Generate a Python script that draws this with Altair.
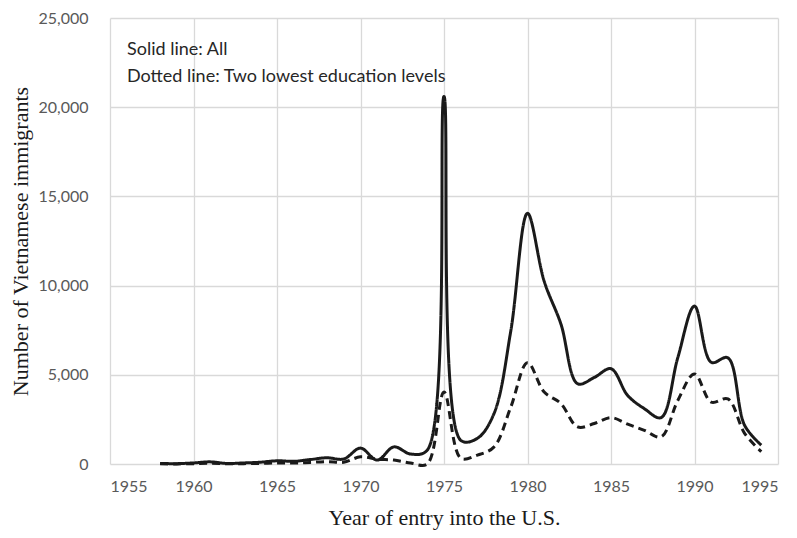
import altair as alt
import pandas as pd

years = list(range(1958, 1995))
all_vals = [30, 20, 60, 120, 30, 60, 100, 180, 150, 250, 350, 280, 890, 220, 960, 560, 780,
            20600, 1330, 1440, 2840, 7460, 14050, 10240, 7850, 4500, 4850, 5340, 3840, 3100,
            2600, 5960, 8850, 5700, 5950, 2170, 1060]
low_vals = [10, 5, 20, 40, 10, 20, 30, 60, 50, 90, 130, 100, 400, 270, 220, 50, 0,
            4030, 330, 500, 960, 3190, 5680, 4030, 3390, 2080, 2270, 2600, 2230, 1890,
            1520, 3560, 5050, 3470, 3650, 1720, 690]
series_names = ["All", "Two lowest education levels"]
x_ticks = [1955, 1960, 1965, 1970, 1975, 1980, 1985, 1990, 1995]
y_ticks = [0, 5000, 10000, 15000, 20000, 25000]
note_lines = ["Solid line: All", "Dotted line: Two lowest education levels"]

df = pd.DataFrame({
    "year": years * 2,
    "value": all_vals + low_vals,
    "series": [series_names[0]] * len(years) + [series_names[1]] * len(years),
})

x = alt.X("year:Q", scale=alt.Scale(domain=[1955, 1995], nice=False),
          axis=alt.Axis(values=x_ticks, format="d", title="Year of entry into the U.S.",
                        titleY=53, titleBaseline="middle", labelPadding=14))
y = alt.Y("value:Q", scale=alt.Scale(domain=[0, 25000], nice=False),
          axis=alt.Axis(values=y_ticks, format=",d", title="Number of Vietnamese immigrants",
                        titleX=-90, titleY=223, titleAngle=-90, titleBaseline="middle",
                        titleAlign="center", labelPadding=22))

lines = alt.Chart(df).mark_line(interpolate="catmull-rom", strokeWidth=3, color="#1a1a1a").encode(
    x=x, y=y,
    strokeDash=alt.StrokeDash("series:N", scale=alt.Scale(domain=series_names, range=[[1, 0], [8, 5]]),
                              legend=None),
    detail="series:N",
)

text = alt.Chart(pd.DataFrame({"k": [0]})).mark_text(
    align="left", baseline="alphabetic", font="Lato", fontSize=18, color="#262626",
    text=note_lines, lineHeight=27,
).encode(
    x=alt.value(17),
    y=alt.value(37),
)

chart = alt.layer(lines, text).properties(
    width=668, height=446,
    autosize=alt.AutoSizeParams(type="none"),
    padding={"left": 102, "top": 10, "right": 11, "bottom": 66},
).configure_axis(
    grid=True, gridColor="#d9d9d9", gridWidth=1.3, domain=False, ticks=False,
    labelFont="Lato", labelFontSize=16, labelColor="#595959",
    titleFont="Liberation Serif", titleFontSize=22, titleFontWeight="normal", titleColor="#1a1a1a",
).configure_view(stroke=None)

chart.save("out.html", embed_options={"renderer": "svg", "actions": False})
